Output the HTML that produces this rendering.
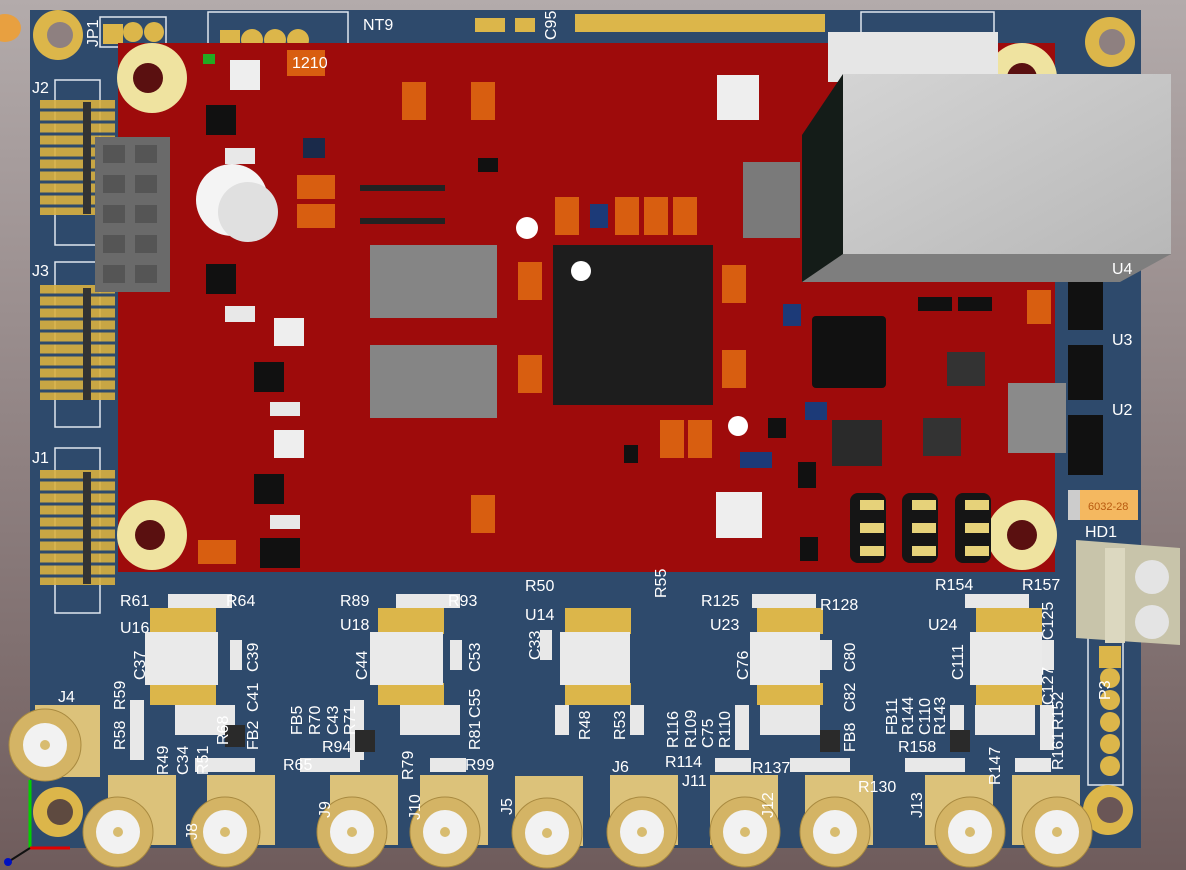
<!DOCTYPE html>
<html><head><meta charset="utf-8"><style>
html,body{margin:0;padding:0;width:1186px;height:870px;overflow:hidden}
svg text{font-family:"Liberation Sans",sans-serif;fill:#fff;font-size:16px}
</style></head><body>
<svg width="1186" height="870" viewBox="0 0 1186 870" xmlns="http://www.w3.org/2000/svg">
<defs>
<linearGradient id="bg" x1="0" y1="0" x2="0" y2="1"><stop offset="0" stop-color="#b3abab"/><stop offset="1" stop-color="#6f5c5c"/></linearGradient>
<linearGradient id="box" x1="0" y1="0" x2="1" y2="1"><stop offset="0" stop-color="#d4d4d4"/><stop offset="1" stop-color="#b8b8b8"/></linearGradient>
</defs>
<rect width="1186" height="870" fill="url(#bg)"/>
<ellipse cx="5" cy="28" rx="16" ry="14" fill="#e8a040"/>
<!-- blue board -->
<rect x="30" y="10" width="1111" height="838" fill="#2e4a6c"/>
<!-- silkscreen outlines -->
<g fill="none" stroke="#dfe6ee" stroke-width="1.5">
<rect x="100" y="17" width="66" height="30"/><rect x="208" y="12" width="140" height="40"/>
<rect x="861" y="12" width="133" height="30"/>
<rect x="55" y="80" width="45" height="165"/><rect x="55" y="262" width="45" height="165"/><rect x="55" y="448" width="45" height="165"/>
<rect x="1088" y="635" width="35" height="150"/>
</g>
<!-- JP1 pads & top pads -->
<g fill="#dcb64a"><rect x="103" y="24" width="20" height="20"/><circle cx="133" cy="32" r="10"/><circle cx="154" cy="32" r="10"/>
<rect x="220" y="30" width="20" height="20"/><circle cx="252" cy="40" r="11"/><circle cx="275" cy="40" r="11"/><circle cx="298" cy="40" r="11"/>
<rect x="475" y="18" width="30" height="14"/><rect x="515" y="18" width="20" height="14"/>
<rect x="575" y="14" width="250" height="18"/></g>
<!-- blue mounting holes -->
<g><circle cx="58" cy="35" r="25" fill="#dcb64a"/><circle cx="60" cy="35" r="13" fill="#8e8080"/>
<circle cx="1110" cy="42" r="25" fill="#dcb64a"/><circle cx="1112" cy="42" r="13" fill="#8e8080"/>
<circle cx="58" cy="812" r="25" fill="#dcb64a"/><circle cx="60" cy="812" r="13" fill="#5e4a40"/>
<circle cx="1108" cy="810" r="25" fill="#dcb64a"/><circle cx="1110" cy="810" r="13" fill="#6a5656"/></g>
<!-- left header pins -->
<g fill="#d9b040">
<rect x="40" y="100" width="75" height="115" opacity="0.9"/><rect x="40" y="285" width="75" height="115" opacity="0.9"/><rect x="40" y="470" width="75" height="115" opacity="0.9"/>
</g>
<g stroke="#2e4a6c" stroke-width="3">
<path d="M40 110H115M40 122H115M40 134H115M40 146H115M40 158H115M40 170H115M40 182H115M40 194H115M40 206H115"/>
<path d="M40 295H115M40 307H115M40 319H115M40 331H115M40 343H115M40 355H115M40 367H115M40 379H115M40 391H115"/>
<path d="M40 480H115M40 492H115M40 504H115M40 516H115M40 528H115M40 540H115M40 552H115M40 564H115M40 576H115"/>
</g>
<rect x="83" y="102" width="8" height="112" fill="#333"/><rect x="83" y="288" width="8" height="112" fill="#333"/><rect x="83" y="472" width="8" height="112" fill="#333"/>
<!-- red board -->
<rect x="118" y="43" width="937" height="529" fill="#9e0b0b"/>
<!-- left gray connector -->
<rect x="95" y="137" width="75" height="155" fill="#6a6a6a"/>
<g fill="#555"><rect x="103" y="145" width="22" height="18"/><rect x="135" y="145" width="22" height="18"/><rect x="103" y="175" width="22" height="18"/><rect x="135" y="175" width="22" height="18"/><rect x="103" y="205" width="22" height="18"/><rect x="135" y="205" width="22" height="18"/><rect x="103" y="235" width="22" height="18"/><rect x="135" y="235" width="22" height="18"/><rect x="103" y="265" width="22" height="18"/><rect x="135" y="265" width="22" height="18"/></g>
<!-- red mounting holes -->
<g fill="#efe3a0"><circle cx="152" cy="78" r="35"/><circle cx="152" cy="535" r="35"/><circle cx="1022" cy="535" r="35"/><circle cx="1022" cy="78" r="35"/></g>
<g fill="#5a1010"><circle cx="148" cy="78" r="15"/><circle cx="150" cy="535" r="15"/><circle cx="1022" cy="535" r="15"/><circle cx="1022" cy="78" r="15"/></g>
<!-- coin cell holder -->
<circle cx="232" cy="200" r="36" fill="#f4f4f4"/><circle cx="248" cy="212" r="30" fill="#e0e0e0"/>
<!-- white buttons -->
<g fill="#eeeeee"><rect x="230" y="60" width="30" height="30"/><rect x="717" y="75" width="42" height="45"/><rect x="274" y="318" width="30" height="28"/><rect x="274" y="430" width="30" height="28"/><rect x="716" y="492" width="46" height="46"/></g>
<!-- gray pads -->
<rect x="370" y="245" width="127" height="73" fill="#858585"/><rect x="370" y="345" width="127" height="73" fill="#858585"/>
<rect x="743" y="162" width="57" height="76" fill="#7a7a7a"/>
<!-- main IC -->
<rect x="553" y="245" width="160" height="160" fill="#1d1d1d"/><circle cx="581" cy="271" r="10" fill="#fff"/>
<circle cx="527" cy="228" r="11" fill="#fff"/><circle cx="738" cy="426" r="10" fill="#fff"/>
<!-- small ICs -->
<g fill="#111"><rect x="206" y="105" width="30" height="30"/><rect x="206" y="264" width="30" height="30"/><rect x="254" y="362" width="30" height="30"/><rect x="254" y="474" width="30" height="30"/>
<rect x="812" y="316" width="74" height="72" rx="4"/><rect x="947" y="352" width="38" height="34" fill="#333"/><rect x="832" y="420" width="50" height="46" fill="#2a2a2a"/><rect x="923" y="418" width="38" height="38" fill="#333"/>
<rect x="478" y="158" width="20" height="14"/><rect x="768" y="418" width="18" height="20"/><rect x="798" y="462" width="18" height="26"/><rect x="800" y="537" width="18" height="24"/><rect x="624" y="445" width="14" height="18"/><rect x="918" y="297" width="34" height="14"/><rect x="958" y="297" width="34" height="14"/><rect x="303" y="138" width="22" height="20" fill="#1a2a4a"/>
<rect x="1068" y="275" width="35" height="55"/><rect x="1068" y="345" width="35" height="55"/><rect x="1068" y="415" width="35" height="60"/>
</g>
<rect x="260" y="538" width="40" height="30" fill="#111"/>
<g fill="#1c3a78"><rect x="590" y="204" width="18" height="24"/><rect x="783" y="304" width="18" height="22"/><rect x="805" y="402" width="22" height="18"/><rect x="740" y="452" width="32" height="16"/></g>
<!-- gray side component -->
<rect x="1008" y="383" width="58" height="70" fill="#8a8a8a"/>
<!-- pin headers -->
<g fill="#151515"><rect x="850" y="493" width="36" height="70" rx="8"/><rect x="902" y="493" width="36" height="70" rx="8"/><rect x="955" y="493" width="36" height="70" rx="8"/></g>
<g fill="#e6d27a"><rect x="860" y="500" width="24" height="10"/><rect x="860" y="523" width="24" height="10"/><rect x="860" y="546" width="24" height="10"/><rect x="912" y="500" width="24" height="10"/><rect x="912" y="523" width="24" height="10"/><rect x="912" y="546" width="24" height="10"/><rect x="965" y="500" width="24" height="10"/><rect x="965" y="523" width="24" height="10"/><rect x="965" y="546" width="24" height="10"/></g>
<!-- orange 1210 caps -->
<g fill="#d85e10"><rect x="287" y="50" width="38" height="26"/><rect x="402" y="82" width="24" height="38"/><rect x="471" y="82" width="24" height="38"/><rect x="297" y="175" width="38" height="24"/><rect x="297" y="204" width="38" height="24"/><rect x="555" y="197" width="24" height="38"/><rect x="615" y="197" width="24" height="38"/><rect x="644" y="197" width="24" height="38"/><rect x="673" y="197" width="24" height="38"/><rect x="518" y="262" width="24" height="38"/><rect x="722" y="265" width="24" height="38"/><rect x="518" y="355" width="24" height="38"/><rect x="722" y="350" width="24" height="38"/><rect x="660" y="420" width="24" height="38"/><rect x="688" y="420" width="24" height="38"/><rect x="471" y="495" width="24" height="38"/><rect x="198" y="540" width="38" height="24"/><rect x="1027" y="290" width="24" height="34"/></g>
<g fill="#e8e8e8"><rect x="225" y="148" width="30" height="16"/><rect x="225" y="306" width="30" height="16"/><rect x="270" y="402" width="30" height="14"/><rect x="270" y="515" width="30" height="14"/></g>
<g font-size="9" style="font-size:9px"><text x="292" y="68">1210</text></g>
<!-- small red-board parts rows -->
<g fill="#222"><rect x="360" y="185" width="85" height="6"/><rect x="360" y="218" width="85" height="6"/></g>
<rect x="203" y="54" width="12" height="10" fill="#22aa22"/>
<!-- ethernet / gray box -->
<rect x="828" y="32" width="170" height="50" fill="#e6e6e6"/>
<polygon points="802,135 843,74 843,254 1171,254 1100,282 802,282" fill="#141c18"/>
<polygon points="843,254 1171,254 1120,282 802,282" fill="#7e7e7e"/>
<rect x="843" y="74" width="328" height="180" fill="url(#box)"/>
<!-- right blue side parts -->
<rect x="1068" y="490" width="70" height="30" fill="#f4b860"/><rect x="1068" y="490" width="12" height="30" fill="#ccc"/>
<text x="1088" y="510" style="font-size:11px;fill:#b85a10">6032-28</text>
<polygon points="1076,540 1180,548 1180,645 1076,638" fill="#c8c4aa"/><rect x="1105" y="548" width="20" height="95" fill="#dcd8c0"/>
<circle cx="1152" cy="577" r="17" fill="#e4e4e4"/><circle cx="1152" cy="622" r="17" fill="#e4e4e4"/>
<g fill="#dcb64a"><rect x="1099" y="646" width="22" height="22"/><circle cx="1110" cy="678" r="10"/><circle cx="1110" cy="700" r="10"/><circle cx="1110" cy="722" r="10"/><circle cx="1110" cy="744" r="10"/><circle cx="1110" cy="766" r="10"/></g>
<!-- bottom ICs with pads -->
<g fill="#dcb64a">
<rect x="150" y="608" width="66" height="26"/><rect x="150" y="683" width="66" height="22"/>
<rect x="378" y="608" width="66" height="26"/><rect x="378" y="683" width="66" height="22"/>
<rect x="565" y="608" width="66" height="26"/><rect x="565" y="683" width="66" height="22"/>
<rect x="757" y="608" width="66" height="26"/><rect x="757" y="683" width="66" height="22"/>
<rect x="976" y="608" width="66" height="26"/><rect x="976" y="683" width="66" height="22"/>
</g>
<g fill="#eaeaea"><rect x="145" y="632" width="73" height="53"/><rect x="370" y="632" width="73" height="53"/><rect x="560" y="632" width="70" height="53"/><rect x="750" y="632" width="70" height="53"/><rect x="970" y="632" width="72" height="53"/></g>
<!-- resistor rows -->
<g fill="#e8e8e8">
<rect x="168" y="594" width="64" height="14"/><rect x="396" y="594" width="64" height="14"/><rect x="752" y="594" width="64" height="14"/><rect x="965" y="594" width="64" height="14"/>
<rect x="195" y="758" width="60" height="14"/><rect x="300" y="758" width="60" height="14"/><rect x="430" y="758" width="36" height="14"/><rect x="715" y="758" width="36" height="14"/><rect x="790" y="758" width="60" height="14"/><rect x="905" y="758" width="60" height="14"/><rect x="1015" y="758" width="36" height="14"/>
<rect x="130" y="700" width="14" height="60"/><rect x="175" y="705" width="60" height="30"/><rect x="350" y="700" width="14" height="60"/><rect x="400" y="705" width="60" height="30"/><rect x="555" y="705" width="14" height="30"/><rect x="630" y="705" width="14" height="30"/><rect x="735" y="705" width="14" height="45"/><rect x="760" y="705" width="60" height="30"/><rect x="950" y="705" width="14" height="45"/><rect x="975" y="705" width="60" height="30"/><rect x="1040" y="705" width="14" height="45"/>
<rect x="230" y="640" width="12" height="30"/><rect x="450" y="640" width="12" height="30"/><rect x="540" y="630" width="12" height="30"/><rect x="820" y="640" width="12" height="30"/><rect x="1042" y="640" width="12" height="30"/>
</g>
<g fill="#2a2a2a"><rect x="225" y="725" width="20" height="22"/><rect x="355" y="730" width="20" height="22"/><rect x="820" y="730" width="20" height="22"/><rect x="950" y="730" width="20" height="22"/></g>
<!-- SMA connectors -->
<g id="smas">
<g transform="translate(60,750)"><rect x="-25" y="-45" width="65" height="72" fill="#dcc27a"/><circle cx="-15" cy="-5" r="36" fill="#d4b465" stroke="#a98a40"/><circle cx="-15" cy="-5" r="22" fill="#f2f2f2"/><circle cx="-15" cy="-5" r="5" fill="#d8bc70"/></g>
<g transform="translate(118,832)"><rect x="-10" y="-57" width="68" height="70" fill="#dcc27a"/><circle cx="0" cy="0" r="35" fill="#d4b465" stroke="#a98a40"/><circle cx="0" cy="0" r="22" fill="#f2f2f2"/><circle cx="0" cy="0" r="5" fill="#d8bc70"/></g>
<g transform="translate(225,832)"><rect x="-18" y="-57" width="68" height="70" fill="#dcc27a"/><circle cx="0" cy="0" r="35" fill="#d4b465" stroke="#a98a40"/><circle cx="0" cy="0" r="22" fill="#f2f2f2"/><circle cx="0" cy="0" r="5" fill="#d8bc70"/></g>
<g transform="translate(352,832)"><rect x="-22" y="-57" width="68" height="70" fill="#dcc27a"/><circle cx="0" cy="0" r="35" fill="#d4b465" stroke="#a98a40"/><circle cx="0" cy="0" r="22" fill="#f2f2f2"/><circle cx="0" cy="0" r="5" fill="#d8bc70"/></g>
<g transform="translate(445,832)"><rect x="-25" y="-57" width="68" height="70" fill="#dcc27a"/><circle cx="0" cy="0" r="35" fill="#d4b465" stroke="#a98a40"/><circle cx="0" cy="0" r="22" fill="#f2f2f2"/><circle cx="0" cy="0" r="5" fill="#d8bc70"/></g>
<g transform="translate(547,833)"><rect x="-32" y="-57" width="68" height="70" fill="#dcc27a"/><circle cx="0" cy="0" r="35" fill="#d4b465" stroke="#a98a40"/><circle cx="0" cy="0" r="22" fill="#f2f2f2"/><circle cx="0" cy="0" r="5" fill="#d8bc70"/></g>
<g transform="translate(642,832)"><rect x="-32" y="-57" width="68" height="70" fill="#dcc27a"/><circle cx="0" cy="0" r="35" fill="#d4b465" stroke="#a98a40"/><circle cx="0" cy="0" r="22" fill="#f2f2f2"/><circle cx="0" cy="0" r="5" fill="#d8bc70"/></g>
<g transform="translate(745,832)"><rect x="-35" y="-57" width="68" height="70" fill="#dcc27a"/><circle cx="0" cy="0" r="35" fill="#d4b465" stroke="#a98a40"/><circle cx="0" cy="0" r="22" fill="#f2f2f2"/><circle cx="0" cy="0" r="5" fill="#d8bc70"/></g>
<g transform="translate(835,832)"><rect x="-30" y="-57" width="68" height="70" fill="#dcc27a"/><circle cx="0" cy="0" r="35" fill="#d4b465" stroke="#a98a40"/><circle cx="0" cy="0" r="22" fill="#f2f2f2"/><circle cx="0" cy="0" r="5" fill="#d8bc70"/></g>
<g transform="translate(970,832)"><rect x="-45" y="-57" width="68" height="70" fill="#dcc27a"/><circle cx="0" cy="0" r="35" fill="#d4b465" stroke="#a98a40"/><circle cx="0" cy="0" r="22" fill="#f2f2f2"/><circle cx="0" cy="0" r="5" fill="#d8bc70"/></g>
<g transform="translate(1057,832)"><rect x="-45" y="-57" width="68" height="70" fill="#dcc27a"/><circle cx="0" cy="0" r="35" fill="#d4b465" stroke="#a98a40"/><circle cx="0" cy="0" r="22" fill="#f2f2f2"/><circle cx="0" cy="0" r="5" fill="#d8bc70"/></g>
</g>
<!-- axes -->
<path d="M30 848V780" stroke="#00d000" stroke-width="3"/><path d="M30 848H70" stroke="#e00000" stroke-width="3"/><path d="M30 848L8 862" stroke="#111" stroke-width="2"/><circle cx="8" cy="862" r="4" fill="#0010c0"/>
<!-- labels -->
<g>
<text x="32" y="93">J2</text><text x="32" y="276">J3</text><text x="32" y="463">J1</text>
<text transform="translate(98,47) rotate(-90)">JP1</text>
<text x="363" y="30">NT9</text><text transform="translate(556,40) rotate(-90)">C95</text>
<text x="1112" y="274">U4</text><text x="1112" y="345">U3</text><text x="1112" y="415">U2</text>
<text x="1085" y="537">HD1</text><text transform="translate(1110,700) rotate(-90)">P3</text>
<text x="120" y="606">R61</text><text x="226" y="606">R64</text>
<text x="340" y="606">R89</text><text x="448" y="606">R93</text>
<text x="525" y="591">R50</text><text transform="translate(666,598) rotate(-90)">R55</text>
<text x="701" y="606">R125</text><text x="820" y="610">R128</text>
<text x="935" y="590">R154</text><text x="1022" y="590">R157</text>
<text x="120" y="633">U16</text><text x="340" y="630">U18</text><text x="525" y="620">U14</text><text x="710" y="630">U23</text><text x="928" y="630">U24</text>
<text transform="translate(1053,640) rotate(-90)">C125</text><text transform="translate(1053,705) rotate(-90)">C127</text>
<text transform="translate(145,680) rotate(-90)">C37</text><text transform="translate(258,672) rotate(-90)">C39</text>
<text transform="translate(367,680) rotate(-90)">C44</text><text transform="translate(480,672) rotate(-90)">C53</text>
<text transform="translate(540,660) rotate(-90)">C33</text><text transform="translate(748,680) rotate(-90)">C76</text>
<text transform="translate(855,672) rotate(-90)">C80</text><text transform="translate(963,680) rotate(-90)">C111</text>
<text x="58" y="702">J4</text>
<text transform="translate(125,710) rotate(-90)">R59</text><text transform="translate(125,750) rotate(-90)">R58</text>
<text transform="translate(168,775) rotate(-90)">R49</text><text transform="translate(188,775) rotate(-90)">C34</text><text transform="translate(208,775) rotate(-90)">R51</text><text transform="translate(228,745) rotate(-90)">R68</text>
<text transform="translate(258,712) rotate(-90)">C41</text><text transform="translate(258,750) rotate(-90)">FB2</text><text x="283" y="770">R65</text>
<text transform="translate(302,735) rotate(-90)">FB5</text><text transform="translate(320,735) rotate(-90)">R70</text><text transform="translate(338,735) rotate(-90)">C43</text><text transform="translate(355,735) rotate(-90)">R71</text><text x="322" y="752">R94</text>
<text transform="translate(413,780) rotate(-90)">R79</text><text transform="translate(480,750) rotate(-90)">R81</text><text transform="translate(480,718) rotate(-90)">C55</text><text x="465" y="770">R99</text>
<text transform="translate(590,740) rotate(-90)">R48</text><text transform="translate(625,740) rotate(-90)">R53</text>
<text x="612" y="772">J6</text><text x="682" y="786">J11</text>
<text transform="translate(678,748) rotate(-90)">R116</text><text transform="translate(696,748) rotate(-90)">R109</text><text transform="translate(713,748) rotate(-90)">C75</text><text transform="translate(730,748) rotate(-90)">R110</text>
<text x="665" y="767">R114</text><text x="752" y="773">R137</text><text x="858" y="792">R130</text>
<text transform="translate(855,712) rotate(-90)">C82</text><text transform="translate(855,752) rotate(-90)">FB8</text>
<text transform="translate(897,735) rotate(-90)">FB11</text><text transform="translate(913,735) rotate(-90)">R144</text><text transform="translate(930,735) rotate(-90)">C110</text><text transform="translate(945,735) rotate(-90)">R143</text><text x="898" y="752">R158</text>
<text transform="translate(1000,785) rotate(-90)">R147</text><text transform="translate(1063,730) rotate(-90)">R152</text><text transform="translate(1063,770) rotate(-90)">R161</text>
<text transform="translate(197,840) rotate(-90)">J8</text><text transform="translate(330,818) rotate(-90)">J9</text><text transform="translate(420,820) rotate(-90)">J10</text><text transform="translate(512,815) rotate(-90)">J5</text><text transform="translate(773,818) rotate(-90)">J12</text><text transform="translate(922,818) rotate(-90)">J13</text>
</g>
</svg>
</body></html>
